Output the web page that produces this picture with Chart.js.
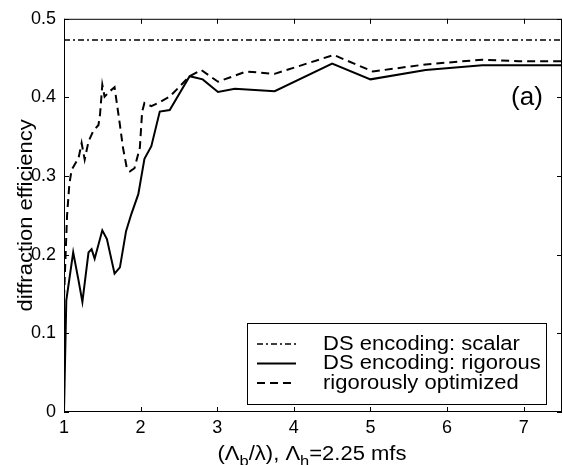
<!DOCTYPE html>
<html>
<head>
<meta charset="utf-8">
<script src="https://cdn.jsdelivr.net/npm/chart.js@4"></script>
<style>
  body { margin: 0; background: #fff; }
  #wrap { width: 563px; height: 465px; position: relative; }
</style>
</head>
<body>
<div id="wrap"><canvas id="c"></canvas></div>
<script>
// values
const xTicks = [1, 2, 3, 4, 5, 6, 7];
const yTicks = [0, 0.1, 0.2, 0.3, 0.4, 0.5];
const yTickLabels = ['0', '0.1', '0.2', '0.3', '0.4', '0.5'];

const scalarX = [1, 7.5];
const scalarY = [0.473, 0.473];

const rigX = [1.0, 1.03, 1.12, 1.19, 1.24, 1.32, 1.36, 1.40, 1.50, 1.56, 1.66, 1.73, 1.81, 1.88, 1.97,
  2.05, 2.14, 2.25, 2.38, 2.64, 2.81, 3.01, 3.23, 3.75, 4.5, 5.0, 5.72, 6.46, 7.5];
const rigY = [0.0, 0.142, 0.203, 0.167, 0.140, 0.203, 0.207, 0.195, 0.231, 0.220, 0.176, 0.184, 0.230, 0.252, 0.277,
  0.322, 0.338, 0.382, 0.384, 0.427, 0.423, 0.407, 0.411, 0.408, 0.443, 0.423, 0.435, 0.441, 0.441];

const optX = [1.0, 1.04, 1.07, 1.10, 1.19, 1.23, 1.27, 1.32, 1.38, 1.45, 1.47, 1.50, 1.53, 1.60, 1.66, 1.73,
  1.77, 1.82, 1.86, 1.92, 1.99, 2.02, 2.05, 2.14, 2.23, 2.38, 2.64, 2.79, 3.01, 3.38, 3.75, 4.52, 5.03,
  5.72, 6.46, 6.94, 7.5];
const optY = [0.145, 0.25, 0.29, 0.308, 0.323, 0.342, 0.321, 0.344, 0.357, 0.365, 0.378, 0.416, 0.401, 0.408, 0.413, 0.365,
  0.336, 0.31, 0.306, 0.31, 0.336, 0.382, 0.393, 0.389, 0.393, 0.401, 0.427, 0.435, 0.42, 0.433, 0.43, 0.454, 0.433,
  0.442, 0.448, 0.446, 0.446];

const seriesNames = ['DS encoding: scalar', 'DS encoding: rigorous', 'rigorously optimized'];

const FONT = '"Liberation Sans", Arial, Helvetica, sans-serif';
const STRETCH = 1.1; // the scanned text is a bit wider than Liberation Sans
const pts = (xs, ys) => xs.map((x, i) => ({ x: x, y: ys[i] }));

const dashes = [[6, 3, 2, 3], [], [8, 5]];
const widths = [1.5, 2, 2];

// stretched text helper
function wideText(ctx, txt, x, y, align) {
  ctx.save();
  ctx.translate(x, y);
  ctx.scale(STRETCH, 1);
  ctx.textAlign = align;
  ctx.fillText(txt, 0, 0);
  ctx.restore();
}

// box, inward ticks, titles, legend and the "(a)" tag
const frame = {
  id: 'frame',
  afterDraw(chart) {
    const { ctx, chartArea: a, scales: { x, y } } = chart;
    ctx.save();
    ctx.strokeStyle = '#000';
    ctx.lineWidth = 1;
    ctx.setLineDash([]);
    ctx.strokeRect(a.left + 0.5, a.top + 0.5, a.right - a.left - 1, a.bottom - a.top - 1);
    ctx.beginPath();
    xTicks.forEach(v => {
      const px = Math.round(x.getPixelForValue(v)) + 0.5;
      ctx.moveTo(px, a.bottom); ctx.lineTo(px, a.bottom - 5);
      ctx.moveTo(px, a.top); ctx.lineTo(px, a.top + 5);
    });
    yTicks.forEach(v => {
      const py = Math.round(y.getPixelForValue(v)) + 0.5;
      ctx.moveTo(a.left, py); ctx.lineTo(a.left + 5, py);
      ctx.moveTo(a.right, py); ctx.lineTo(a.right - 5, py);
    });
    ctx.stroke();

    ctx.fillStyle = '#000';
    // y title
    ctx.save();
    ctx.translate(26, (a.top + a.bottom) / 2);
    ctx.rotate(-Math.PI / 2);
    ctx.font = '20px ' + FONT;
    ctx.textBaseline = 'middle';
    wideText(ctx, 'diffraction efficiency', 0, 0, 'center');
    ctx.restore();

    // x title with subscripts
    const parts = [['(Λ', 0], ['b', 1], ['/λ), Λ', 0], ['h', 1], ['=2.25 mfs', 0]];
    const big = '20px ' + FONT, small = '15px ' + FONT;
    let total = 0;
    parts.forEach(p => { ctx.font = p[1] ? small : big; total += ctx.measureText(p[0]).width * STRETCH; });
    let cx = 312 - total / 2;
    ctx.textBaseline = 'alphabetic';
    parts.forEach(p => {
      ctx.font = p[1] ? small : big;
      wideText(ctx, p[0], cx, p[1] ? 466 : 460, 'left');
      cx += ctx.measureText(p[0]).width * STRETCH;
    });

    // (a)
    ctx.font = '26px ' + FONT;
    ctx.textAlign = 'center';
    ctx.textBaseline = 'middle';
    ctx.fillText('(a)', 527, 98);

    // legend
    const lx = 247, ly = 323, lw = 299, lh = 81;
    ctx.fillStyle = '#fff';
    ctx.fillRect(lx, ly, lw, lh);
    ctx.strokeStyle = '#000';
    ctx.lineWidth = 1;
    ctx.strokeRect(lx + 0.5, ly + 0.5, lw, lh);
    ctx.font = '20px ' + FONT;
    ctx.textBaseline = 'middle';
    ctx.fillStyle = '#000';
    seriesNames.forEach((name, i) => {
      const ry = 344 + i * 19.5;
      ctx.beginPath();
      ctx.setLineDash(dashes[i]);
      ctx.lineWidth = widths[i];
      ctx.moveTo(257, ry); ctx.lineTo(296, ry);
      ctx.stroke();
      ctx.setLineDash([]);
      wideText(ctx, name, 323, ry, 'left');
    });
    ctx.restore();
  }
};

new Chart(document.getElementById('c'), {
  type: 'line',
  data: {
    datasets: [
      { label: seriesNames[0], data: pts(scalarX, scalarY), borderDash: dashes[0], borderWidth: widths[0] },
      { label: seriesNames[1], data: pts(rigX, rigY), borderDash: dashes[1], borderWidth: widths[1] },
      { label: seriesNames[2], data: pts(optX, optY), borderDash: dashes[2], borderWidth: widths[2] }
    ].map(d => Object.assign(d, { borderColor: '#000', pointRadius: 0, tension: 0, fill: false }))
  },
  options: {
    responsive: true,
    maintainAspectRatio: false,
    animation: false,
    layout: { padding: { top: 17, right: 1, left: 0, bottom: 0 } },
    plugins: { legend: { display: false }, tooltip: { enabled: false } },
    scales: {
      x: {
        type: 'linear', min: 1, max: 7.5,
        afterBuildTicks: s => { s.ticks = xTicks.map(v => ({ value: v })); },
        afterFit: s => { s.height = 53; },
        grid: { display: false, drawTicks: false },
        border: { display: false },
        ticks: { color: '#000', padding: 5, font: { family: FONT, size: 18 }, maxRotation: 0, autoSkip: false,
          callback: v => String(v) }
      },
      y: {
        type: 'linear', min: 0, max: 0.5,
        afterBuildTicks: s => { s.ticks = yTicks.map(v => ({ value: v })); },
        afterFit: s => { s.width = 64; },
        grid: { display: false, drawTicks: false },
        border: { display: false },
        ticks: { color: '#000', padding: 8, font: { family: FONT, size: 18 }, autoSkip: false,
          callback: (v, i) => yTickLabels[i] }
      }
    }
  },
  plugins: [frame]
});
</script>
</body>
</html>
